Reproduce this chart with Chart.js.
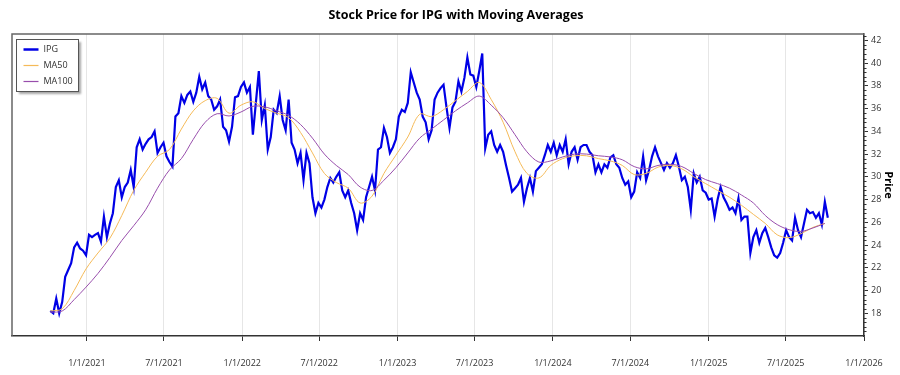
<!DOCTYPE html>
<html>
<head>
<meta charset="utf-8">
<script src="https://cdn.jsdelivr.net/npm/chart.js@4.4.1/dist/chart.umd.min.js"></script>
<style>
  html, body { margin: 0; padding: 0; background: #fff; }
  #wrap { width: 900px; height: 375px; }
</style>
</head>
<body>
<div id="wrap"><canvas id="chart"></canvas></div>
<script>
// weekly closes, first one on 2020-10-07
const firstWeek = '2020-10-07';
const ipgWeekly = [
  18.2, 18.0, 19.3, 18.0, 19.0, 21.2, 21.8, 22.4, 23.8, 24.2,
  23.7, 23.5, 23.1, 24.9, 24.7, 24.9, 25.05, 24.3, 26.5, 24.7,
  25.9, 26.8, 29.1, 29.7, 28.2, 29.1, 29.5, 30.6, 29.1, 32.6,
  33.3, 32.4, 32.9, 33.3, 33.5, 34.0, 32.1, 32.6, 33.0, 31.8,
  31.3, 30.9, 35.3, 35.6, 37.1, 36.5, 37.2, 37.5, 36.6, 37.4,
  38.8, 37.7, 38.3, 37.1, 36.8, 35.9, 36.2, 36.8, 34.4, 34.1,
  33.1, 34.4, 37.0, 37.1, 37.9, 38.3, 37.4, 37.9, 33.7, 36.5,
  39.3, 35.0, 36.3, 32.4, 33.5, 35.9, 35.6, 37.1, 35.0, 34.1,
  36.8, 33.0, 32.4, 31.2, 32.1, 29.7, 32.1, 31.2, 28.2, 26.8,
  27.7, 27.3, 28.0, 29.1, 29.9, 29.5, 30.0, 30.4, 28.8, 28.2,
  28.8, 27.7, 26.8, 25.3, 26.8, 26.2, 28.2, 29.1, 30.0, 28.8,
  32.4, 32.6, 34.3, 33.5, 32.1, 32.6, 33.3, 35.3, 35.9, 35.7,
  36.5, 39.2, 38.3, 37.4, 36.8, 35.3, 34.8, 33.3, 34.1, 36.8,
  37.4, 37.8, 38.1, 36.1, 34.3, 36.1, 36.6, 38.4, 37.5, 38.7,
  40.5, 39.0, 38.9, 37.9, 39.3, 40.85, 32.5, 33.7, 34.0, 32.8,
  32.2, 32.8, 32.2, 31.0, 29.9, 28.7, 29.0, 29.3, 29.9, 27.8,
  29.0, 29.9, 28.7, 30.5, 30.8, 31.1, 31.9, 32.8, 32.2, 33.0,
  31.9, 32.8, 32.2, 33.3, 31.1, 32.2, 32.6, 31.5, 32.6, 32.8,
  32.8, 32.2, 31.9, 30.4, 31.1, 30.4, 31.1, 30.8, 31.7, 31.9,
  31.1, 30.8, 29.9, 29.3, 29.6, 28.2, 28.7, 30.4, 29.9, 31.8,
  29.7, 30.6, 31.8, 32.6, 31.8, 31.2, 30.6, 31.2, 30.8, 31.2,
  31.9, 30.9, 29.7, 30.0, 29.1, 27.1, 30.3, 29.5, 30.0, 28.8,
  28.6, 28.0, 28.1, 26.5, 28.0, 29.1, 28.2, 27.7, 27.1, 27.3,
  26.8, 28.1, 26.2, 26.5, 26.5, 23.3, 24.7, 25.3, 24.2, 25.05,
  25.5, 24.7, 23.8, 23.1, 22.9, 23.3, 24.2, 25.3, 24.7, 24.4,
  26.4, 25.3, 24.7, 25.9, 27.1, 26.8, 26.9, 26.4, 26.8, 25.8,
  27.8, 26.4
];

// moving averages, one value every 4 weeks from the same first week
const ma50 = [
  18.2, 18.4, 20.0, 21.9, 23.3, 24.6, 26.6, 28.8, 30.4, 31.8,
  32.4, 34.2, 35.8, 36.7, 36.9, 35.6, 36.3, 36.6, 36.0, 35.6,
  35.2, 33.9, 32.1, 30.3, 29.5, 29.0, 27.7, 28.3, 30.3, 31.9,
  33.5, 35.5, 35.3, 35.9, 36.7, 37.5, 38.3, 36.8, 34.8, 32.2,
  30.3, 29.9, 31.0, 31.6, 31.85, 31.85, 31.6, 31.4, 31.0, 30.2,
  30.3, 30.85, 31.0, 30.7, 30.0, 29.4, 28.8, 28.2, 27.5, 26.7,
  25.9, 24.9, 24.65, 25.0, 25.55, 25.9
];
const ma100 = [
  18.1, 18.2, 19.2, 20.3, 21.5, 22.9, 24.4, 25.7, 27.1, 29.0,
  30.6, 31.6, 33.3, 34.8, 35.55, 35.35, 35.7, 36.2, 36.15, 35.8,
  35.4, 34.6, 33.4, 32.0, 31.0, 30.2, 29.1, 28.8, 29.7, 30.8,
  32.1, 33.4, 34.2, 35.0, 35.8, 36.5, 37.1, 36.3, 35.2, 33.7,
  32.2, 31.3, 31.4, 31.75, 32.0, 32.0, 31.85, 31.75, 31.5, 30.9,
  30.7, 31.0, 31.1, 30.9, 30.3, 29.75, 29.4, 29.0, 28.4, 27.7,
  26.6, 25.8, 25.35, 25.2, 25.5, 25.9
];

const tickLabels = ['1/1/2021', '7/1/2021', '1/1/2022', '7/1/2022', '1/1/2023', '7/1/2023',
  '1/1/2024', '7/1/2024', '1/1/2025', '7/1/2025', '1/1/2026'];
const priceTicks = [18, 20, 22, 24, 26, 28, 30, 32, 34, 36, 38, 40, 42];

const DAY = 86400000;
const WEEK = 7 * DAY;
const toUtc = s => {
  const [m, d, y] = s.split('/').map(Number);
  return Date.UTC(y, m - 1, d);
};
const t0 = Date.parse(firstWeek + 'T00:00:00Z');
const tickValues = tickLabels.map(toUtc);

const FONT = '"Open Sans", "Noto Sans", sans-serif';

const frameAndLegend = {
  id: 'frameAndLegend',
  afterDraw(chart) {
    const { ctx, chartArea: a } = chart;
    const y = chart.scales.y;
    ctx.save();
    // top and left edges of the plot frame
    ctx.strokeStyle = '#666';
    ctx.lineWidth = 1.5;
    ctx.beginPath();
    ctx.moveTo(a.left, a.bottom);
    ctx.lineTo(a.left, a.top);
    ctx.lineTo(a.right, a.top);
    ctx.stroke();

    // minor ticks on the price axis
    ctx.strokeStyle = '#333';
    ctx.lineWidth = 1;
    for (let j = 41; j <= 106; j++) {
      if (j % 5 === 0) continue;
      const py = Math.round(y.getPixelForValue(j * 0.4)) + 0.5;
      ctx.beginPath();
      ctx.moveTo(a.right, py);
      ctx.lineTo(a.right + 2.5, py);
      ctx.stroke();
    }

    // legend box inside the plot
    const bx = a.left + 4.5, by = a.top + 5.5, bw = 62, bh = 52;
    ctx.save();
    ctx.shadowColor = 'rgba(0,0,0,0.35)';
    ctx.shadowOffsetX = 2;
    ctx.shadowOffsetY = 2;
    ctx.shadowBlur = 2;
    ctx.fillStyle = '#fff';
    ctx.fillRect(bx, by, bw, bh);
    ctx.restore();
    ctx.strokeStyle = '#555';
    ctx.lineWidth = 1;
    ctx.strokeRect(bx, by, bw, bh);

    ctx.font = '9px ' + FONT;
    ctx.textBaseline = 'middle';
    ctx.fillStyle = '#333';
    chart.data.datasets.forEach((ds, i) => {
      const ly = by + 10 + i * 16;
      ctx.strokeStyle = ds.borderColor;
      ctx.lineWidth = i === 0 ? 2.5 : 1.2;
      ctx.beginPath();
      ctx.moveTo(bx + 7, ly);
      ctx.lineTo(bx + 22, ly);
      ctx.stroke();
      ctx.fillText(ds.label, bx + 27, ly);
    });
    ctx.restore();
  }
};

new Chart(document.getElementById('chart').getContext('2d'), {
  type: 'line',
  data: {
    datasets: [
      {
        label: 'IPG',
        data: ipgWeekly.map((v, i) => ({ x: t0 + i * WEEK, y: v })),
        borderColor: 'rgb(0, 0, 230)',
        borderWidth: 2.2,
        pointRadius: 0,
        tension: 0,
        order: 2,
      },
      {
        label: 'MA50',
        data: ma50.map((v, k) => ({ x: t0 + k * 4 * WEEK, y: v })),
        borderColor: 'rgb(245, 186, 88)',
        borderWidth: 1,
        pointRadius: 0,
        tension: 0.35,
        order: 1,
      },
      {
        label: 'MA100',
        data: ma100.map((v, k) => ({ x: t0 + k * 4 * WEEK, y: v })),
        borderColor: 'rgb(152, 78, 172)',
        borderWidth: 1,
        pointRadius: 0,
        tension: 0.35,
        order: 0,
      },
    ],
  },
  options: {
    responsive: true,
    maintainAspectRatio: false,
    animation: false,
    layout: {
      padding: { left: 12, right: 0, top: 0, bottom: 0 },
    },
    plugins: {
      legend: { display: false },
      tooltip: { enabled: false },
      title: {
        display: true,
        text: 'Stock Price for IPG with Moving Averages',
        color: '#000',
        font: { family: FONT, size: 12.5, weight: 'bold' },
        padding: { top: 8, bottom: 11 },
      },
    },
    scales: {
      x: {
        type: 'linear',
        min: Date.UTC(2020, 6, 9),
        max: toUtc('1/1/2026'),
        afterBuildTicks: s => { s.ticks = tickValues.map(v => ({ value: v })); },
        afterFit: s => { s.height = 39; },
        ticks: {
          autoSkip: false,
          maxRotation: 0,
          padding: 17,
          color: '#333',
          font: { family: FONT, size: 9 },
          callback: v => tickLabels[tickValues.indexOf(v)],
        },
        grid: { color: '#e6e6e6', tickColor: '#333', tickLength: 5 },
        border: { color: '#333', width: 1.5 },
      },
      y: {
        position: 'right',
        min: 16,
        max: 42.56,
        afterBuildTicks: s => { s.ticks = priceTicks.map(v => ({ value: v })); },
        afterFit: s => { s.width = 36; },
        ticks: {
          padding: 3,
          color: '#333',
          font: { family: FONT, size: 9 },
        },
        grid: { drawOnChartArea: false, tickColor: '#333', tickLength: 4 },
        border: { color: '#333', width: 1.5 },
        title: {
          display: true,
          text: 'Price',
          color: '#000',
          font: { family: FONT, size: 11, weight: 'bold' },
          padding: { top: 5, bottom: 0 },
        },
      },
    },
  },
  plugins: [frameAndLegend],
});
</script>
</body>
</html>
